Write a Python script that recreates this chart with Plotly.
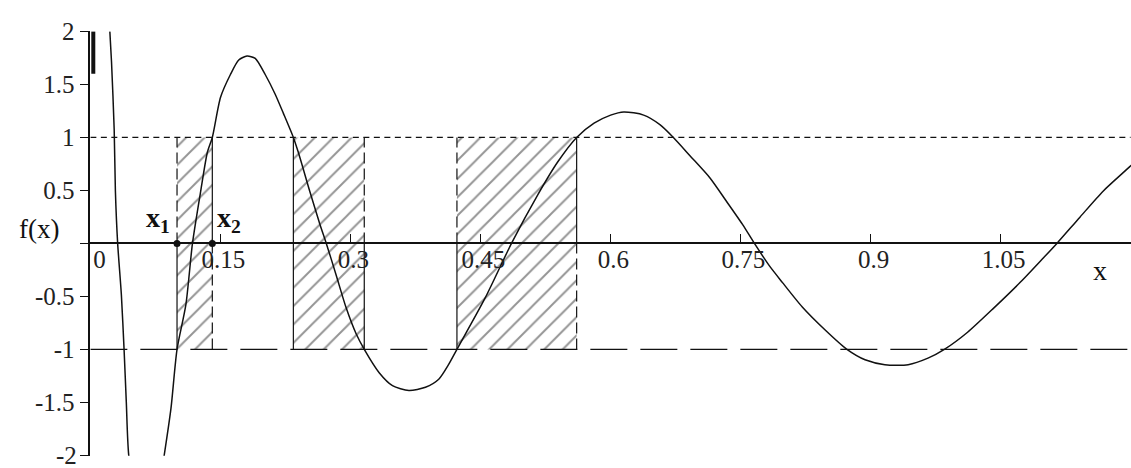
import plotly.graph_objects as go

# f(x) sampled along the plotted curve
curve_x = [0.0225, 0.0244, 0.0275, 0.0289, 0.0315, 0.0358, 0.0389, 0.0415, 0.0443,
           0.0640, 0.0852, 0.0930, 0.1000, 0.1102, 0.1178, 0.1273, 0.1350, 0.1407,
           0.1502, 0.1616, 0.1712, 0.1807, 0.1902, 0.2017, 0.2131, 0.2227, 0.2342,
           0.2399, 0.2531, 0.2646, 0.2722, 0.2837, 0.2951, 0.3066, 0.3160, 0.3332,
           0.3485, 0.3675, 0.3866, 0.4019, 0.4130, 0.4229, 0.4553, 0.4858, 0.5163,
           0.5391, 0.5610, 0.5811, 0.6002, 0.6154, 0.6383, 0.6574, 0.6726, 0.6917,
           0.7146, 0.7336, 0.7527, 0.7661, 0.7832, 0.7985, 0.8213, 0.8480, 0.8728,
           0.8937, 0.9166, 0.9434, 0.9663, 0.9852, 1.0120, 1.0424, 1.0730, 1.0996,
           1.1150, 1.1416, 1.1683, 1.1988, 1.2100]
curve_y = [2.0, 1.716, 1.073, 0.495, 0.0, -0.486, -1.0, -1.5, -2.0,
           -3.1, -2.0, -1.557, -1.0, -0.578, 0.0, 0.493, 0.860, 1.0,
           1.379, 1.594, 1.731, 1.768, 1.746, 1.594, 1.410, 1.227, 1.0,
           0.860, 0.493, 0.186, 0.0, -0.303, -0.608, -0.853, -1.0, -1.220,
           -1.342, -1.388, -1.358, -1.282, -1.147, -1.0, -0.517, 0.0, 0.461,
           0.768, 1.0, 1.135, 1.211, 1.241, 1.211, 1.119, 1.0, 0.828,
           0.620, 0.400, 0.175, 0.0, -0.210, -0.370, -0.600, -0.820, -1.0,
           -1.098, -1.144, -1.144, -1.083, -1.0, -0.838, -0.608, -0.365, -0.135,
           0.0, 0.248, 0.493, 0.722, 0.81]

# steep branch right at the origin
spike_x = [0.0034, 0.0034]
spike_y = [2.0, 1.6]

# intervals where the curve passes between the two levels
band_low, band_high = -1.0, 1.0
interval_left = [0.1000, 0.2342, 0.4229]
interval_right = [0.1407, 0.3160, 0.5610]

# marked roots x1, x2
root_x = [0.1000, 0.1407]
root_y = [0.0, 0.0]
root_names = ["x<sub>1</sub>", "x<sub>2</sub>"]

x_span = [0.0, 1.2]
x_ticks = [0, 0.15, 0.3, 0.45, 0.6, 0.75, 0.9, 1.05, 1.2]
x_ticktext = ["\u00a0\u00a00", "0.15", "0.3", "0.45", "0.6", "0.75", "0.9", "1.05", ""]
y_ticks = [-2, -1.5, -1, -0.5, 0, 0.5, 1, 1.5, 2]
# the lowest label sits on the bottom edge of the page and is written separately
y_ticktext = ["", "-1.5", "-1", "-0.5", "", "0.5", "1", "1.5", "2"]
y_edge_label = (-2, "-2")

W, H = 1131, 468
FONT = "Liberation Serif"
INK = "#111111"

# pixel geometry of the plotting area
PX_X0, PX_Y0, PX_PER_Y = 82, 237, 109
y_rng = [-2.003, 2.003]
x_rng = [0.0, 1.2005]
x_dom = [PX_X0 / W, 1.0]
y_dom = [(H - (PX_Y0 - y_rng[0] * PX_PER_Y)) / H, (H - (PX_Y0 - y_rng[1] * PX_PER_Y)) / H]
zero_pos = y_dom[0] + (0 - y_rng[0]) / (y_rng[1] - y_rng[0]) * (y_dom[1] - y_dom[0])

fig = go.Figure()

# hatched intervals
for a, b in zip(interval_left, interval_right):
    fig.add_trace(go.Scatter(
        x=[a, b, b, a, a], y=[band_low, band_low, band_high, band_high, band_low],
        mode="lines", line=dict(width=0, color="rgba(0,0,0,0)"),
        fill="toself", fillcolor="rgba(255,255,255,0)",
        fillpattern=dict(shape="/", size=13, solidity=0.15,
                         fgcolor="#2a2a2a", bgcolor="rgba(255,255,255,0)"),
        hoverinfo="skip", showlegend=False))

# level lines f = 1 and f = -1
fig.add_trace(go.Scatter(x=x_span, y=[band_high, band_high], mode="lines",
                         line=dict(color=INK, width=1.3, dash="6px,4.5px"),
                         showlegend=False, hoverinfo="skip"))
fig.add_trace(go.Scatter(x=x_span, y=[band_low, band_low], mode="lines",
                         line=dict(color=INK, width=1.3, dash="37px,13px"),
                         showlegend=False, hoverinfo="skip"))

# interval edges: (upper half style, lower half style) for left and right edges
edge_styles = [
    (("dash", "solid"), ("solid", "dash")),
    (("solid", "solid"), ("dash", "solid")),
    (("dash", "solid"), ("solid", "dash")),
]
for a, b, (ls, rs) in zip(interval_left, interval_right, edge_styles):
    for xe, (up, lo) in ((a, ls), (b, rs)):
        for (y0, y1), st in (((0.0, band_high), up), ((band_low, 0.0), lo)):
            fig.add_trace(go.Scatter(
                x=[xe, xe], y=[y0, y1], mode="lines",
                line=dict(color=INK, width=1.2,
                          dash="11px,5px" if st == "dash" else "solid"),
                showlegend=False, hoverinfo="skip"))

# the function
fig.add_trace(go.Scatter(x=curve_x, y=curve_y, mode="lines",
                         line=dict(color=INK, width=1.5, shape="spline", smoothing=0.7),
                         showlegend=False, hoverinfo="skip"))
fig.add_trace(go.Scatter(x=spike_x, y=spike_y, mode="lines",
                         line=dict(color=INK, width=4),
                         showlegend=False, hoverinfo="skip"))

# root points
fig.add_trace(go.Scatter(x=root_x, y=root_y, mode="markers",
                         marker=dict(color=INK, size=7),
                         showlegend=False, hoverinfo="skip", cliponaxis=False))

fig.add_annotation(x=root_x[0], y=root_y[0], text="<b>" + root_names[0] + "</b>",
                   xanchor="right", yanchor="bottom", xshift=-5, yshift=4,
                   showarrow=False, font=dict(family=FONT, size=28, color=INK))
fig.add_annotation(x=root_x[1], y=root_y[1], text="<b>" + root_names[1] + "</b>",
                   xanchor="left", yanchor="bottom", xshift=3, yshift=4,
                   showarrow=False, font=dict(family=FONT, size=28, color=INK))

# lowest y tick label
fig.add_annotation(xref="paper", x=(PX_X0 - 11) / W, y=y_edge_label[0],
                   text=y_edge_label[1], xanchor="right", yanchor="middle",
                   showarrow=False, font=dict(family=FONT, size=25, color="#222222"))

# axis names
fig.add_annotation(xref="paper", x=8 / W, y=0, text="f(x)", xanchor="left",
                   yanchor="middle", yshift=14, showarrow=False,
                   font=dict(family=FONT, size=27, color=INK))
fig.add_annotation(x=1.165, y=0, text="x", xanchor="center", yanchor="middle",
                   yshift=-27, showarrow=False,
                   font=dict(family=FONT, size=28, color=INK))

# size comes from the page container (pinned to the window's top-left corner)
fig.update_layout(
    margin=dict(l=0, r=0, t=0, b=0),
    paper_bgcolor="white", plot_bgcolor="white",
    font=dict(family=FONT, size=25, color="#222222"),
    showlegend=False,
    xaxis=dict(domain=x_dom, range=x_rng, anchor="free", position=zero_pos,
               showgrid=False, zeroline=False, showline=True, linecolor=INK,
               linewidth=1.5, ticks="inside", ticklen=9, tickwidth=1.3,
               tickcolor=INK, tickvals=x_ticks, ticktext=x_ticktext,
               ticklabelshift=3, ticklabelstandoff=-6, fixedrange=True),
    yaxis=dict(domain=y_dom, range=y_rng, anchor="x", showgrid=False,
               zeroline=False, showline=True, linecolor=INK, linewidth=1.5,
               ticks="outside", ticklen=9, tickwidth=1.3, tickcolor=INK,
               tickvals=y_ticks, ticktext=y_ticktext, fixedrange=True),
)

fig.write_html("out.html", config={"displayModeBar": False},
               default_width=f"{W}px; position:fixed; left:0; top:0",
               default_height=f"{H}px",
               post_script="document.body.style.margin='0';")
